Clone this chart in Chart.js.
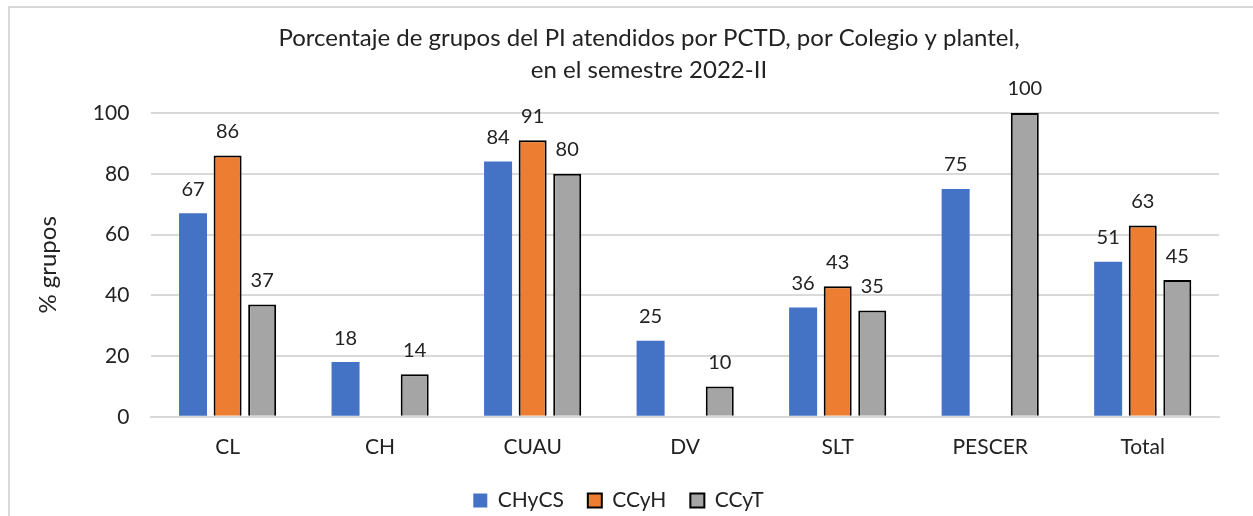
<!DOCTYPE html>
<html>
<head>
<meta charset="utf-8">
<script src="https://cdn.jsdelivr.net/npm/chart.js@4"></script>
<style>
  html, body { margin: 0; padding: 0; background: #fff; overflow: hidden; }
  #marco { position: absolute; left: 8px; top: 6px; width: 1300px; height: 600px; border: 2px solid #d9d9d9; box-sizing: border-box; }
  #caja { position: absolute; left: 0; top: 0; width: 1253px; height: 516px; }
</style>
</head>
<body>
<div id="marco"></div>
<div id="caja"><canvas id="grafica"></canvas></div>
<script>
const planteles = ['CL', 'CH', 'CUAU', 'DV', 'SLT', 'PESCER', 'Total'];
const chycs = [67, 18, 84, 25, 36, 75, 51];
const ccyh = [86, null, 91, null, 43, null, 63];
const ccyt = [37, 14, 80, 10, 35, 100, 45];
const titulo = ['Porcentaje de grupos del PI atendidos por PCTD, por Colegio y plantel,', 'en el semestre 2022-II'];
const fuente = 'Lato, "Noto Sans", sans-serif';

// etiquetas de valor encima de cada barra
const etiquetas = {
    id: 'etiquetas',
    afterDatasetsDraw(chart) {
        const ctx = chart.ctx;
        ctx.save();
        ctx.font = '20px ' + fuente;
        ctx.fillStyle = '#222';
        ctx.textAlign = 'center';
        ctx.textBaseline = 'middle';
        chart.data.datasets.forEach((ds, i) => {
            chart.getDatasetMeta(i).data.forEach((bar, j) => {
                if (ds.data[j] == null) return;
                ctx.fillText(ds.data[j], bar.x, bar.y - 24);
            });
        });
        ctx.restore();
    }
};

// titulo en dos lineas
const encabezado = {
    id: 'encabezado',
    afterDraw(chart) {
        const ctx = chart.ctx;
        ctx.save();
        ctx.font = '24px ' + fuente;
        ctx.fillStyle = '#222';
        ctx.textAlign = 'center';
        ctx.textBaseline = 'middle';
        ctx.fillText(titulo[0], 649, 38);
        ctx.fillText(titulo[1], 649, 70);
        ctx.restore();
    }
};

// sube un poco la leyenda
const subirLeyenda = {
    id: 'subirLeyenda',
    afterLayout(chart) {
        chart.legend.top -= 12;
        chart.legend.bottom -= 12;
    }
};

new Chart(document.getElementById('grafica'), {
    type: 'bar',
    data: {
        labels: planteles,
        datasets: [
            { label: 'CHyCS', data: chycs, backgroundColor: '#4472C4', borderWidth: 0 },
            { label: 'CCyH', data: ccyh, backgroundColor: '#ED7D31', borderColor: '#000', borderWidth: 2 },
            { label: 'CCyT', data: ccyt, backgroundColor: '#A5A5A5', borderColor: '#000', borderWidth: 2 }
        ]
    },
    options: {
        responsive: true, maintainAspectRatio: false, animation: false,
        layout: { padding: { left: 18, right: 34, top: 113, bottom: -17 } },
        datasets: { bar: { categoryPercentage: 0.68, barPercentage: 0.81 } },
        scales: {
            x: {
                grid: { display: false, drawTicks: false },
                border: { color: '#d9d9d9', width: 2 },
                ticks: { color: '#222', font: { family: fuente, size: 21 }, padding: 18 }
            },
            y: {
                min: 0, max: 100,
                ticks: { stepSize: 20, color: '#222', font: { family: fuente, size: 21 }, padding: 22 },
                grid: { color: '#d9d9d9', lineWidth: 2, drawTicks: false },
                border: { display: false },
                title: { display: true, text: '% grupos', color: '#222', font: { family: fuente, size: 24 }, padding: { top: 16, bottom: 8 } }
            }
        },
        plugins: {
            legend: {
                position: 'bottom',
                labels: { color: '#222', font: { family: fuente, size: 21 }, boxWidth: 14, boxHeight: 14, padding: 24 }
            },
            tooltip: { enabled: false }
        }
    },
    plugins: [etiquetas, encabezado, subirLeyenda]
});
</script>
</body>
</html>
